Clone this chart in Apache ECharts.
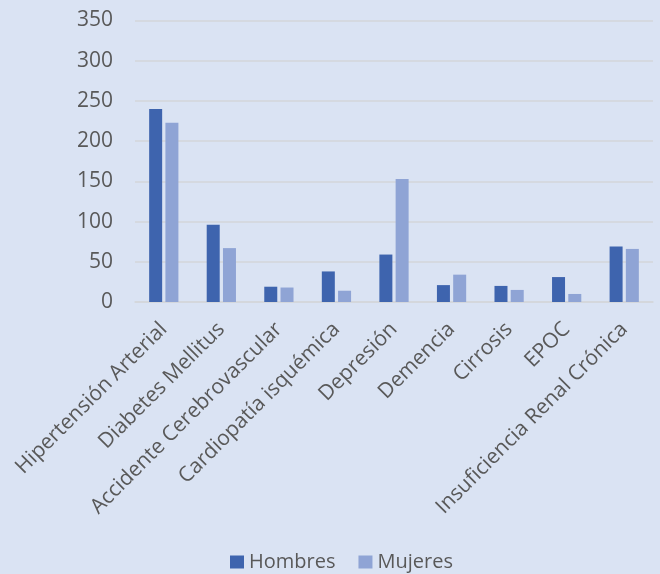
<!DOCTYPE html>
<html>
<head>
<meta charset="utf-8">
<script src="https://cdn.jsdelivr.net/npm/echarts@6/dist/echarts.min.js"></script>
<style>
html,body{margin:0;padding:0;background:#dae3f3;}
#c{width:660px;height:574px;}
</style>
</head>
<body>
<div id="c"></div>
<script>
const categories = ['Hipertensión Arterial','Diabetes Mellitus','Accidente Cerebrovascular','Cardiopatía isquémica','Depresión','Demencia','Cirrosis','EPOC','Insuficiencia Renal Crónica'];
const hombres = [240, 96, 19, 38, 59, 21, 20, 31, 69];
const mujeres = [223, 67, 18, 14, 153, 34, 15, 10, 66];
const yTicks = {min: 0, max: 350, interval: 50};

const font = '"Open Sans", sans-serif';
const chart = echarts.init(document.getElementById('c'));
chart.setOption({
  backgroundColor: '#dae3f3',
  animation: false,
  grid: {left: 135, right: 7, top: 20.5, bottom: 272},
  legend: {
    top: 548, left: 230, padding: 0,
    itemWidth: 14, itemHeight: 13, itemGap: 23,
    icon: 'rect',
    textStyle: {color: '#595959', fontSize: 20, fontFamily: font, lineHeight: 28},
    data: ['Hombres', 'Mujeres']
  },
  xAxis: {
    type: 'category',
    data: categories,
    axisLine: {lineStyle: {color: '#d3d6da', width: 1.5}},
    axisTick: {show: false},
    axisLabel: {rotate: 45, interval: 0, color: '#595959', fontSize: 21, fontFamily: font, margin: 24}
  },
  yAxis: {
    type: 'value',
    min: yTicks.min, max: yTicks.max, interval: yTicks.interval,
    axisLine: {show: false},
    axisTick: {show: false},
    axisLabel: {color: '#595959', fontSize: 21, fontFamily: font, margin: 22},
    splitLine: {lineStyle: {color: '#d3d6da', width: 1.5}}
  },
  series: [
    {name: 'Hombres', type: 'bar', data: hombres, barWidth: 13, barGap: '25%', itemStyle: {color: '#3e64ae'}},
    {name: 'Mujeres', type: 'bar', data: mujeres, barWidth: 13, barGap: '25%', itemStyle: {color: '#8fa4d5'}}
  ]
});
</script>
</body>
</html>
